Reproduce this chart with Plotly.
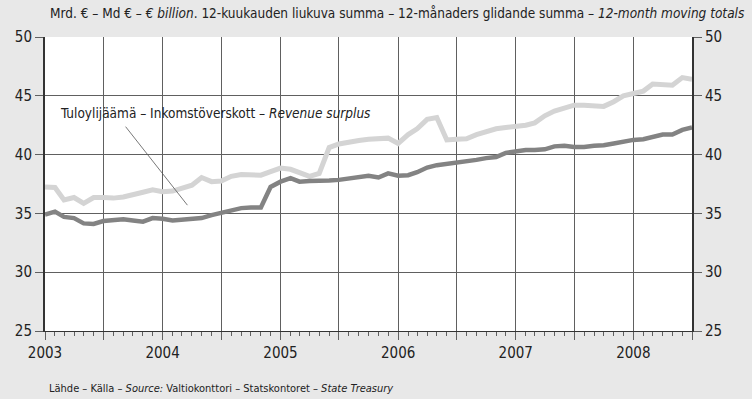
import pandas as pd
import plotly.graph_objects as go

# Monthly observations, Jan 2003 - Jul 2008 (bn EUR, 12-month moving totals)
months = pd.date_range("2003-01-01", "2008-07-01", freq="MS")

light_series = [
    37.25, 37.2, 36.15, 36.35, 35.85, 36.35, 36.35, 36.3, 36.4, 36.55, 36.8, 37.0,
    36.85, 36.9, 37.1, 37.4, 38.05, 37.7, 37.75, 38.15, 38.3, 38.25, 38.25, 38.55,
    38.85, 38.75, 38.5, 38.15, 38.4, 40.6, 40.9, 41.1, 41.2, 41.3, 41.3, 41.4,
    40.95, 41.7, 42.2, 43.0, 43.15, 41.25, 41.3, 41.35, 41.7, 41.95, 42.2, 42.3,
    42.4, 42.5, 42.7, 43.3, 43.7, 43.9, 44.2, 44.2, 44.2, 44.1, 44.5, 45.0,
    45.2, 45.4, 46.0, 45.95, 45.9, 46.55, 46.4,
]

dark_series = [
    34.9, 35.15, 34.7, 34.6, 34.15, 34.1, 34.35, 34.45, 34.5, 34.4, 34.3, 34.6,
    34.55, 34.4, 34.45, 34.5, 34.6, 34.85, 35.05, 35.3, 35.45, 35.5, 35.5, 37.25,
    37.7, 38.0, 37.7, 37.75, 37.75, 37.8, 37.85, 37.95, 38.05, 38.2, 38.05, 38.4,
    38.2, 38.25, 38.5, 38.9, 39.1, 39.2, 39.3, 39.4, 39.55, 39.7, 39.8, 40.15,
    40.3, 40.4, 40.4, 40.45, 40.7, 40.75, 40.65, 40.65, 40.75, 40.8, 40.95, 41.1,
    41.25, 41.3, 41.45, 41.7, 41.7, 42.1, 42.3,
]

y_ticks = [25, 30, 35, 40, 45, 50]
years = [2003, 2004, 2005, 2006, 2007, 2008]

title_text = ("Mrd. € – Md € – <i>€ billion</i>. 12-kuukauden liukuva summa – "
              "12-månaders glidande summa – <i>12-month moving totals</i>")
source_text = ("Lähde – Källa – <i>Source:</i> Valtiokonttori – Statskontoret – "
               "<i>State Treasury</i>")
series_label = "Tuloylijäämä – Inkomstöverskott – <i>Revenue surplus</i>"

FONT = "DejaVu Sans Condensed, Liberation Sans Narrow, Arial Narrow, sans-serif"
GRID = "#606060"
TEXT = "#222222"

# Half-year ticks carry the grid; only year starts are labelled
half_years = pd.date_range(f"{years[0]}-01-01", f"{years[-1]}-07-01", freq="6MS")
half_text = [str(d.year) if d.month == 1 else "" for d in half_years]

fig = go.Figure()
fig.add_trace(go.Scatter(
    x=months, y=light_series, mode="lines",
    line=dict(color="#d4d4d4", width=5), hoverinfo="skip", showlegend=False,
))
fig.add_trace(go.Scatter(
    x=months, y=dark_series, mode="lines", yaxis="y2",
    line=dict(color="#838383", width=4.5), hoverinfo="skip", showlegend=False,
))

axis_common = dict(
    range=[y_ticks[0], y_ticks[-1]], tickvals=y_ticks,
    ticks="outside", ticklen=8, tickcolor=GRID, tickwidth=1,
    tickfont=dict(family=FONT, size=15, color=TEXT),
    showline=True, linecolor="#333333", zeroline=False,
)

fig.update_layout(
    width=752, height=399,
    margin=dict(l=45, r=60, t=37, b=68),
    paper_bgcolor="#e8e8e8", plot_bgcolor="#ffffff",
    xaxis=dict(
        range=[months[0], months[-1]],
        tickvals=half_years, ticktext=half_text,
        ticks="outside", ticklen=8, tickcolor=GRID, tickwidth=1,
        showgrid=True, gridcolor=GRID, gridwidth=1,
        minor=dict(dtick="M1", tick0=months[0], ticks="outside", ticklen=4,
                   tickcolor=GRID, showgrid=False),
        tickfont=dict(family=FONT, size=15, color=TEXT),
        showline=True, linecolor="#333333", linewidth=1, zeroline=False,
    ),
    yaxis=dict(showgrid=True, gridcolor=GRID, gridwidth=1, linewidth=2, **axis_common),
    yaxis2=dict(overlaying="y", side="right", showgrid=False, linewidth=2, **axis_common),
    annotations=[
        dict(text=title_text, xref="paper", yref="paper", x=0.005, y=1.0,
             xanchor="left", yanchor="bottom", yshift=14, showarrow=False,
             font=dict(family=FONT, size=13.5, color=TEXT)),
        dict(text=source_text, xref="paper", yref="paper", x=0.003, y=0,
             xanchor="left", yanchor="top", yshift=-49, showarrow=False,
             font=dict(family=FONT, size=11, color=TEXT)),
        # series label
        dict(text=series_label, xref="paper", yref="paper", x=0.263, y=0.741,
             xanchor="center", yanchor="middle", showarrow=False,
             font=dict(family=FONT, size=13.5, color=TEXT)),
        # leader line from the label down to the series
        dict(text="", x=pd.Timestamp("2004-03-18"), y=35.7,
             ax=-63, ay=-80, axref="pixel", ayref="pixel",
             showarrow=True, arrowhead=0, arrowwidth=0.8, arrowcolor="#555555",
             standoff=0, startstandoff=0),
    ],
)

fig.write_html("out.html")
